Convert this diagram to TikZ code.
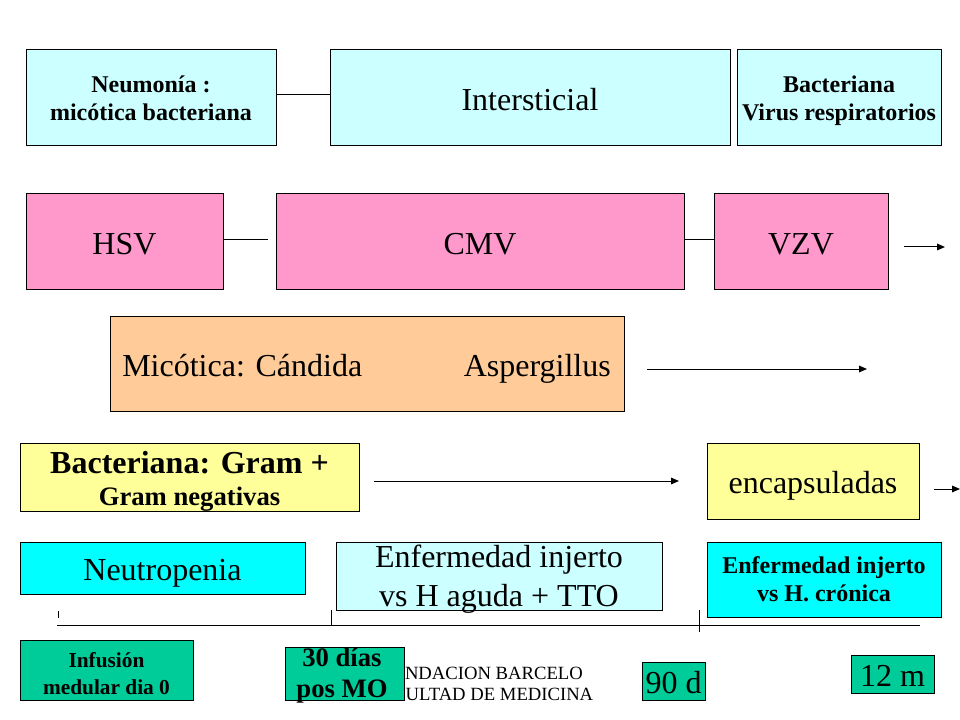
\documentclass[tikz,border=0pt]{standalone}
\usepackage{fontspec}
\setmainfont{Liberation Serif}
\usetikzlibrary{arrows.meta}
\definecolor{lcyan}{HTML}{CCFFFF}
\definecolor{pinkb}{HTML}{FF99CC}
\definecolor{peach}{HTML}{FFCC99}
\definecolor{lyellow}{HTML}{FFFF99}
\definecolor{cyanb}{HTML}{00FFFF}
\definecolor{greenb}{HTML}{00CC99}
\newcommand\slidebox[7]{%
  \node[box,#6,minimum width={(#4-#2)*0.75pt},minimum height={(#5-#3)*0.75pt}]
    (#1) at ({(#2+#4)/2},{(#3+#5)/2}) {#7};}
\newcommand\topgap[1]{\rule{0pt}{#1}}
\begin{document}
\begin{tikzpicture}[x=0.75pt,y=-0.75pt,
  box/.style={draw=black,line width=0.75pt,inner sep=0pt,align=center,text=black},
  txt/.style={inner sep=0pt,align=center,text=black},
  conn/.style={line width=0.75pt},
  arr/.style={line width=0.75pt,-{Triangle[length=6pt,width=5pt]}},
  big/.style={font=\fontsize{24}{28}\selectfont,text height=21pt,text depth=2pt},
  bsmall/.style={font=\fontsize{18}{21}\selectfont\bfseries},
]
\useasboundingbox (0,0) rectangle (960,720);
\fill[white] (0,0) rectangle (960,720);

% row 1
\slidebox{neu}{26}{50}{276}{146}{fill=lcyan,bsmall}{Neumonía :\\micótica bacteriana}
\slidebox{int}{330}{50}{730}{146}{fill=lcyan,big}{Intersticial}
\slidebox{bvr}{737}{50}{941}{146}{fill=lcyan,bsmall}{\topgap{16.4pt}Bacteriana\\Virus respiratorios}
\draw[conn] ([yshift=2.25pt]neu.east) -- ([yshift=2.25pt]int.west);

% row 2
\slidebox{hsv}{26}{194}{223}{290}{fill=pinkb,big}{HSV}
\slidebox{cmv}{276}{194}{684}{290}{fill=pinkb,big}{CMV}
\slidebox{vzv}{714}{194}{888}{290}{fill=pinkb,big}{VZV}
\coordinate (hsvend) at (268,240);
\draw[conn] ([yshift=1.5pt]hsv.east) -- (hsvend);
\draw[conn] ([yshift=1.5pt]cmv.east) -- ([yshift=1.5pt]vzv.west);
\coordinate (a1s) at (904,247);
\coordinate (a1e) at (945,247);
\draw[arr] (a1s) -- (a1e);

% row 3
\slidebox{mic}{110}{316}{624}{411}{fill=peach}{}
\node[txt,font=\fontsize{24}{28}\selectfont,anchor=base west] (micl) at (122,376) {Micótica: Cándida};
\node[txt,font=\fontsize{24}{28}\selectfont,anchor=base east] (micr) at (611,376) {Aspergillus};
\coordinate (a2s) at (647,369);
\coordinate (a2e) at (867,369);
\draw[arr] (a2s) -- (a2e);

% row 4
\slidebox{bac}{20}{443}{359}{511}{fill=lyellow}{}
\node[txt,font=\fontsize{24}{28}\selectfont\bfseries,anchor=base] (bac1) at (189.5,473) {Bacteriana: Gram +};
\node[txt,font=\fontsize{20}{24}\selectfont\bfseries,anchor=base] (bac2) at (189.5,505) {Gram negativas};
\slidebox{enc}{707}{443}{919}{519}{fill=lyellow,big}{encapsuladas}
\coordinate (a3s) at (374,481);
\coordinate (a3e) at (679,481);
\draw[arr] (a3s) -- (a3e);
\coordinate (a4s) at (934,489);
\coordinate (a4e) at (960,489);
\draw[arr] (a4s) -- (a4e);

% row 5
\slidebox{neut}{20}{542}{305}{594}{fill=cyanb,big}{Neutropenia}
\slidebox{egh}{336}{542}{662}{610}{fill=lcyan}{}
\node[txt,font=\fontsize{24}{28}\selectfont] (eght) at (499,579) {Enfermedad injerto\\[1.5pt]vs H aguda + TTO};
\slidebox{ehc}{707}{542}{941}{617}{fill=cyanb,bsmall}{Enfermedad injerto\\vs H. crónica}

% timeline
\coordinate (tl0) at (57,625);
\coordinate (tl1) at (920,625);
\draw[conn] (tl0) -- (tl1);
\coordinate (k0a) at (58,611);
\coordinate (k0b) at (58,618);
\draw[conn] (k0a) -- (k0b);
\coordinate (k1a) at (331,610);
\coordinate (k1b) at (331,625);
\draw[conn] (k1a) -- (k1b);
\coordinate (k2a) at (699,610);
\coordinate (k2b) at (699,632);
\draw[conn] (k2a) -- (k2b);

% bottom
\slidebox{inf}{20}{640}{193}{700}{fill=greenb,font=\fontsize{16}{20.5}\selectfont\bfseries}{\topgap{16.4pt}Infusión\\medular dia 0}
\node[txt,font=\fontsize{14}{16}\selectfont] (fund) at (482,684) {FUNDACION BARCELO\\FACULTAD DE MEDICINA};
\slidebox{d30}{285}{647}{404}{700}{fill=greenb}{}
\node[txt,font=\fontsize{20}{23.25}\selectfont\bfseries] (d30t) at (342,676) {30 días\\pos MO};
\slidebox{d90}{642}{662}{705}{700}{fill=greenb,big}{90 d}
\slidebox{m12}{851}{655}{934}{693}{fill=greenb,big}{12 m}
\end{tikzpicture}
\end{document}
